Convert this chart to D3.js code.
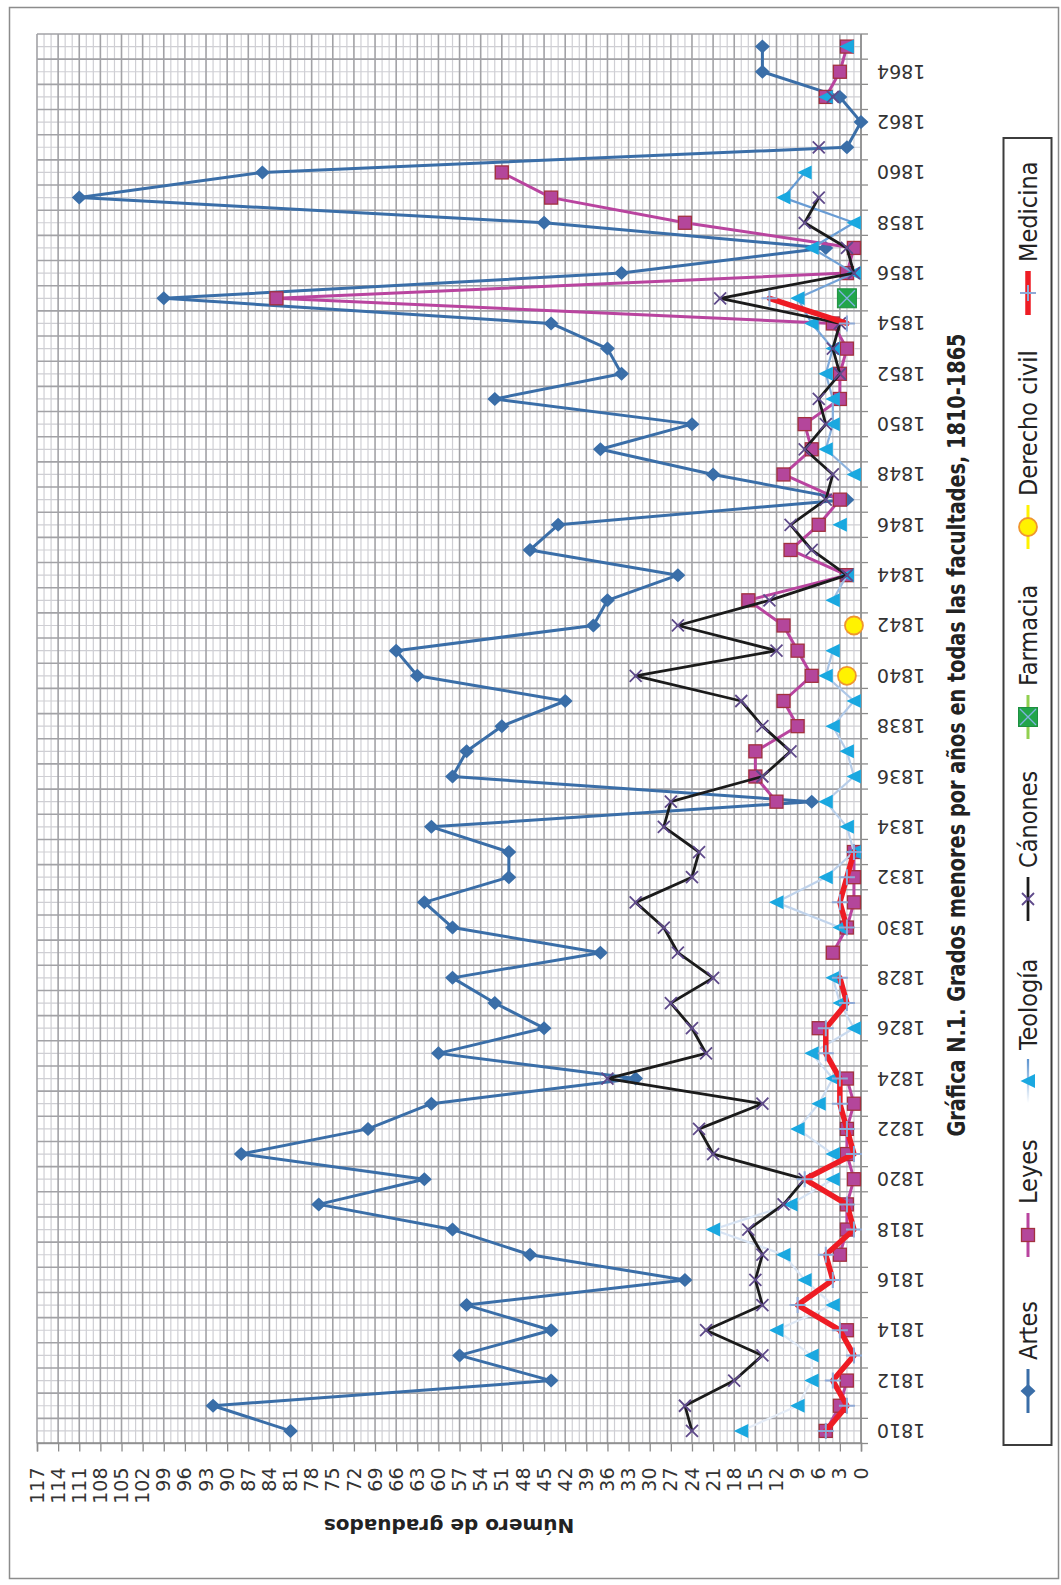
<!DOCTYPE html>
<html>
<head>
<meta charset="utf-8">
<script src="https://cdn.jsdelivr.net/npm/d3@7"></script>
<style>
  body { margin: 0; background: #ffffff; }
  svg { display: block; }
</style>
</head>
<body>
<svg id="chart" width="1061" height="1585"></svg>
<script>
// Graduates per year (grados menores), 1810-1865, one array per faculty.
const years = [1810,1811,1812,1813,1814,1815,1816,1817,1818,1819,
               1820,1821,1822,1823,1824,1825,1826,1827,1828,1829,
               1830,1831,1832,1833,1834,1835,1836,1837,1838,1839,
               1840,1841,1842,1843,1844,1845,1846,1847,1848,1849,
               1850,1851,1852,1853,1854,1855,1856,1857,1858,1859,
               1860,1861,1862,1863,1864,1865];

const artes = [81,92,44,57,44,56,25,47,58,77,
               62,88,70,61,32,60,45,52,58,37,
               58,62,50,50,61,7,58,56,51,42,
               63,66,38,36,26,47,43,2,21,37,
               24,52,34,36,44,99,34,5,45,111,
               85,2,0,3,14,14];

const leyes = [5,3,2,null,2,null,null,3,2,2,
               1,2,2,1,2,null,6,null,null,4,
               2,1,1,1,null,12,15,15,9,11,
               7,9,11,16,2,10,6,3,11,7,
               8,3,3,2,4,83,2,1,25,44,
               51,null,null,5,3,2];

const teologia = [17,9,7,7,12,4,8,11,21,10,
                  4,4,9,6,4,7,1,3,4,null,
                  3,12,5,1,2,5,1,2,4,1,
                  5,4,null,4,2,null,3,null,1,5,
                  4,4,5,4,7,9,1,7,1,11,
                  8,null,null,5,null,2];

const canones = [24,25,18,14,22,14,15,14,16,11,
                 8,21,23,14,36,22,24,27,21,26,
                 28,32,24,23,28,27,14,10,14,17,
                 32,12,26,13,2,7,10,5,4,8,
                 5,6,3,4,3,20,1,2,8,6,
                 null,6,null,4,null,null];

const farmacia = [null,null,null,null,null,null,null,null,null,null,
                  null,null,null,null,null,null,null,null,null,null,
                  null,null,null,null,null,null,null,null,null,null,
                  null,null,null,null,null,null,null,null,null,null,
                  null,null,null,null,null,2,null,null,null,null,
                  null,null,null,null,null,null];

const derechoCivil = [null,null,null,null,null,null,null,null,null,null,
                      null,null,null,null,null,null,null,null,null,null,
                      null,null,null,null,null,null,null,null,null,null,
                      2,null,1,null,null,null,null,null,null,null,
                      null,null,null,null,null,null,null,null,null,null,
                      null,null,null,null,null,null];

const medicina = [5,2,4,1,3,9,4,5,1,2,
                  8,1,2,3,3,5,5,2,3,null,
                  2,3,2,1,null,null,null,null,null,null,
                  null,null,null,null,null,null,null,null,null,null,
                  null,null,null,null,2,13,null,null,null,null,
                  null,null,null,null,null,null];

const valueTicks = [0,3,6,9,12,15,18,21,24,27,30,33,36,39,42,45,48,51,54,57,
                    60,63,66,69,72,75,78,81,84,87,90,93,96,99,102,105,108,111,114,117];
const yearLabels = [1810,1812,1814,1816,1818,1820,1822,1824,1826,1828,1830,1832,1834,1836,
                    1838,1840,1842,1844,1846,1848,1850,1852,1854,1856,1858,1860,1862,1864];

const seriesNames = ["Artes","Leyes","Teología","Cánones","Farmacia","Derecho civil","Medicina"];
const titleText = "Gráfica N.1. Grados menores por años en todas las facultades, 1810-1865";
const axisTitle = "Número de graduados";

// ---------------------------------------------------------------
// The chart is laid out as a landscape chart (years across, counts up)
// and the whole group is turned a quarter turn counter-clockwise.
const svg = d3.select("#chart");
const W = 1409.5, H = 824;          // landscape plot size
const root = svg.append("g").attr("transform", "translate(37,1443.5) rotate(-90)");

const u = d3.scaleBand().domain(years).range([0, W]).paddingInner(0).paddingOuter(0);
const v = d3.scaleLinear().domain([0, 117]).range([H, 0]);
const bw = u.bandwidth();
const cx = yr => u(yr) + bw / 2;

// outer frame (page coordinates)
svg.append("rect").attr("x", 9.5).attr("y", 7.5).attr("width", 1049).attr("height", 1571)
  .attr("fill", "none").attr("stroke", "#8c8c8c").attr("stroke-width", 1.5);

// defs: gradient for the Teología line
const defs = svg.append("defs");
const grad = defs.append("linearGradient").attr("id", "teoGrad")
  .attr("gradientUnits", "userSpaceOnUse").attr("x1", 0).attr("y1", 0).attr("x2", W).attr("y2", 0);
grad.append("stop").attr("offset", "0%").attr("stop-color", "#e6edf7");
grad.append("stop").attr("offset", "50%").attr("stop-color", "#b4cbe8");
grad.append("stop").attr("offset", "100%").attr("stop-color", "#4f8ccd");
const gradL = defs.append("linearGradient").attr("id", "teoGradLegend")
  .attr("x1", 0).attr("y1", 0).attr("x2", 1).attr("y2", 0);
gradL.append("stop").attr("offset", "0%").attr("stop-color", "#ffffff");
gradL.append("stop").attr("offset", "100%").attr("stop-color", "#5b93cf");

// ---------------- grid ----------------
const grid = root.append("g");
const minorVals = d3.range(0, 117.01, 1).filter(d => d % 3 !== 0);
grid.selectAll(".vmin").data(minorVals).join("line")
  .attr("x1", 0).attr("x2", W).attr("y1", d => v(d)).attr("y2", d => v(d))
  .attr("stroke", "#cfcfd4").attr("stroke-width", 1.2);
grid.selectAll(".cmin").data(years).join("line")
  .attr("x1", d => cx(d)).attr("x2", d => cx(d)).attr("y1", 0).attr("y2", H)
  .attr("stroke", "#cfcfd4").attr("stroke-width", 1.2);
grid.selectAll(".vmaj").data(valueTicks).join("line")
  .attr("x1", 0).attr("x2", W).attr("y1", d => v(d)).attr("y2", d => v(d))
  .attr("stroke", "#a2a2a6").attr("stroke-width", 1.6);
const bounds = years.map(y => u(y)).concat([W]);
grid.selectAll(".cmaj").data(bounds).join("line")
  .attr("x1", d => d).attr("x2", d => d).attr("y1", 0).attr("y2", H)
  .attr("stroke", "#a2a2a6").attr("stroke-width", 1.6);

// ---------------- axes ----------------
const yAxis = root.append("g")
  .call(d3.axisLeft(v).tickValues(valueTicks).tickSize(8).tickPadding(16));
yAxis.select(".domain").attr("stroke", "#8c8c8c").attr("stroke-width", 1.5);
yAxis.selectAll(".tick line").attr("stroke", "#8c8c8c").attr("stroke-width", 1.3);
yAxis.selectAll(".tick text").attr("font-family", "'DejaVu Sans', sans-serif")
  .attr("font-size", 19).attr("fill", "#333");

const xAxis = root.append("g").attr("transform", `translate(0,${H})`);
xAxis.append("line").attr("x1", 0).attr("x2", W).attr("y1", 0).attr("y2", 0)
  .attr("stroke", "#8c8c8c").attr("stroke-width", 1.5);
xAxis.selectAll(".ct").data(bounds).join("line")
  .attr("x1", d => d).attr("x2", d => d).attr("y1", 0).attr("y2", 7)
  .attr("stroke", "#8c8c8c").attr("stroke-width", 1.3);
xAxis.selectAll(".cl").data(yearLabels).join("text")
  .attr("transform", d => `translate(${cx(d)},16) rotate(-90)`)
  .attr("text-anchor", "end").attr("dominant-baseline", "central")
  .attr("font-family", "'DejaVu Sans', sans-serif").attr("font-size", 19).attr("fill", "#333")
  .text(d => d);

// axis title and chart title
root.append("text")
  .attr("transform", `translate(-82.5,${H / 2}) rotate(-90)`)
  .attr("text-anchor", "middle").attr("dominant-baseline", "central")
  .attr("font-family", "'DejaVu Sans', sans-serif").attr("font-weight", "bold")
  .attr("font-size", 20).attr("fill", "#222")
  .text(axisTitle);

root.append("text")
  .attr("x", 708.5).attr("y", 919)
  .attr("text-anchor", "middle").attr("dominant-baseline", "central")
  .attr("font-family", "'Liberation Sans Narrow', 'DejaVu Sans Condensed', 'Liberation Sans', sans-serif")
  .attr("font-weight", "bold").attr("font-size", 25).attr("fill", "#222")
  .attr("textLength", 803).attr("lengthAdjust", "spacingAndGlyphs")
  .text(titleText);

// ---------------- markers ----------------
function drawMarker(g, kind, x, y) {
  if (kind === "diamond") {
    g.append("path").attr("d", `M${x},${y - 7.5}L${x + 7},${y}L${x},${y + 7.5}L${x - 7},${y}Z`)
      .attr("fill", "#3a6ea8");
  } else if (kind === "square") {
    g.append("rect").attr("x", x - 6.5).attr("y", y - 6.5).attr("width", 13).attr("height", 13)
      .attr("fill", "#b4469b").attr("stroke", "#a2313f").attr("stroke-width", 1.3);
  } else if (kind === "triangle") {
    g.append("path").attr("d", `M${x},${y - 7.5}L${x + 7},${y + 7}L${x - 7},${y + 7}Z`)
      .attr("fill", "#1aa8e0");
  } else if (kind === "x") {
    g.append("path").attr("d", `M${x - 6},${y - 6}L${x + 6},${y + 6}M${x - 6},${y + 6}L${x + 6},${y - 6}`)
      .attr("stroke", "#5f4a8b").attr("stroke-width", 1.8).attr("fill", "none");
  } else if (kind === "plus") {
    g.append("path").attr("d", `M${x - 8},${y}L${x + 8},${y}M${x},${y - 8}L${x},${y + 8}`)
      .attr("stroke", "#8ea9d6").attr("stroke-width", 2).attr("fill", "none");
  } else if (kind === "circle") {
    g.append("circle").attr("cx", x).attr("cy", y).attr("r", 9)
      .attr("fill", "#fff200").attr("stroke", "#f0962e").attr("stroke-width", 1.8);
  } else if (kind === "farm") {
    g.append("rect").attr("x", x - 9.5).attr("y", y - 9.5).attr("width", 19).attr("height", 19)
      .attr("fill", "#22a54b").attr("stroke", "#1f8f41").attr("stroke-width", 1);
    g.append("path").attr("d", `M${x - 8},${y - 8}L${x + 8},${y + 8}M${x - 8},${y + 8}L${x + 8},${y - 8}`)
      .attr("stroke", "#7fb3e0").attr("stroke-width", 1.3).attr("fill", "none");
  }
}

const series = [
  { name: seriesNames[0], data: artes,        stroke: "#3a6ea8",            width: 3,   marker: "diamond" },
  { name: seriesNames[1], data: leyes,        stroke: "#b9449f",            width: 3,   marker: "square" },
  { name: seriesNames[2], data: teologia,     stroke: "url(#teoGrad)",      width: 2.2, marker: "triangle", legendStroke: "url(#teoGradLegend)" },
  { name: seriesNames[3], data: canones,      stroke: "#1b1b1b",            width: 2.8, marker: "x" },
  { name: seriesNames[4], data: farmacia,     stroke: "#92d050",            width: 3,   marker: "farm" },
  { name: seriesNames[5], data: derechoCivil, stroke: "#fff200",            width: 3,   marker: "circle" },
  { name: seriesNames[6], data: medicina,     stroke: "#ee1c24",            width: 5.5, marker: "plus" }
];

const line = d3.line()
  .defined(d => d.val !== null)
  .x(d => cx(d.year))
  .y(d => v(d.val));

const plot = root.append("g");
series.forEach(s => {
  const pts = years.map((yr, i) => ({ year: yr, val: s.data[i] }));
  const g = plot.append("g");
  g.append("path").datum(pts).attr("d", line)
    .attr("fill", "none").attr("stroke", s.stroke).attr("stroke-width", s.width)
    .attr("stroke-linejoin", "round").attr("stroke-linecap", "round");
  pts.filter(p => p.val !== null).forEach(p => drawMarker(g, s.marker, cx(p.year), v(p.val)));
});

// ---------------- legend ----------------
const legendPos = [52.5, 208.5, 362.5, 544.5, 726.5, 916.5, 1150.5];
const lg = root.append("g").attr("transform", "translate(0,991)");
lg.append("rect").attr("x", -1.5).attr("y", -24.5).attr("width", 1307).attr("height", 48)
  .attr("fill", "#fff").attr("stroke", "#3c3c3c").attr("stroke-width", 2);
series.forEach((s, i) => {
  const m = legendPos[i];
  const g = lg.append("g");
  g.append("line").attr("x1", m - 22).attr("x2", m + 22).attr("y1", 0).attr("y2", 0.01)
    .attr("stroke", s.legendStroke || s.stroke).attr("stroke-width", s.width);
  drawMarker(g, s.marker, m, 0);
  g.append("text").attr("x", m + 31).attr("y", 0)
    .attr("dominant-baseline", "central")
    .attr("font-family", "'Liberation Sans Narrow', 'DejaVu Sans Condensed', 'Liberation Sans', sans-serif")
    .attr("font-size", 25).attr("fill", "#222")
    .text(s.name);
});
</script>
</body>
</html>
